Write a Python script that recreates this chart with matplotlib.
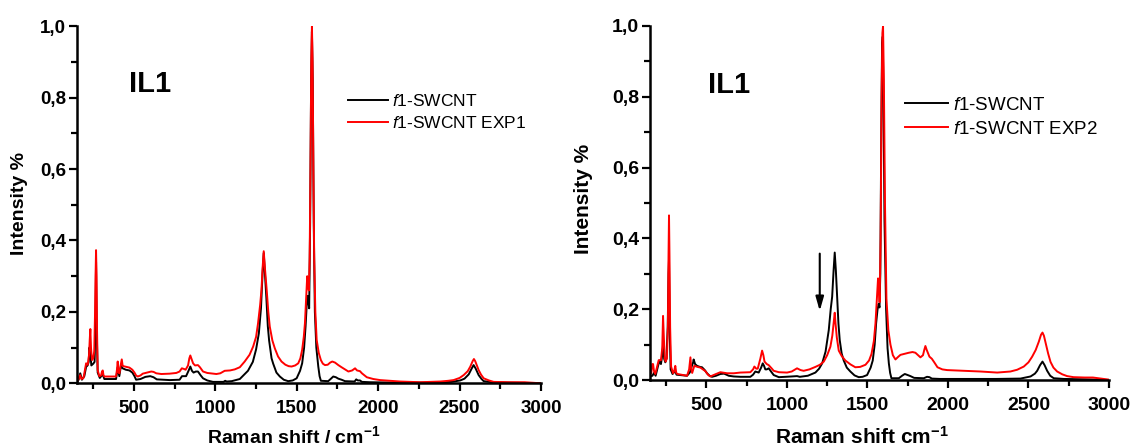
import matplotlib
matplotlib.use("Agg")
import matplotlib.pyplot as plt
from matplotlib.ticker import MultipleLocator, FuncFormatter

# ---------------- data: Raman spectra, normalised to the G band ----------------
# Panel 1: pristine f1-SWCNT vs. f1-SWCNT EXP1
left_ref_shift = [150, 160, 170, 180, 195, 206, 215, 222, 226, 232, 238, 250, 258, 263, 267, 271, 277, 290,
                  308, 318, 390, 400, 410, 420, 430, 450, 472, 490, 503, 513, 540, 570, 600, 620, 640, 680,
                  720, 780, 795, 820, 835, 846, 856, 866, 880, 893, 910, 924, 950, 985, 1050, 1060, 1070,
                  1100, 1150, 1200, 1230, 1250, 1267, 1280, 1290, 1297, 1304, 1313, 1322, 1330, 1345, 1355,
                  1375, 1396, 1420, 1447, 1475, 1499, 1520, 1533, 1545, 1554, 1561, 1566, 1571, 1576, 1582,
                  1588, 1593, 1598, 1604, 1611, 1620, 1632, 1640, 1648, 1693, 1710, 1724, 1740, 1755, 1775,
                  1796, 1855, 1865, 1875, 1888, 1900, 1950, 2100, 2300, 2450, 2504, 2530, 2556, 2575, 2586,
                  2598, 2617, 2635, 2648, 2700, 2800, 2900, 3000]
left_ref_int = [0.003, 0.010, 0.028, 0.010, 0.020, 0.046, 0.050, 0.060, 0.100, 0.085, 0.050, 0.055, 0.060,
                0.150, 0.340, 0.150, 0.030, 0.015, 0.025, 0.012, 0.012, 0.045, 0.020, 0.050, 0.042, 0.038,
                0.036, 0.030, 0.020, 0.010, 0.012, 0.018, 0.020, 0.017, 0.011, 0.010, 0.009, 0.010, 0.020,
                0.020, 0.035, 0.047, 0.035, 0.030, 0.033, 0.033, 0.022, 0.014, 0.008, 0.004, 0.004, 0.007,
                0.005, 0.006, 0.012, 0.035, 0.060, 0.095, 0.140, 0.210, 0.310, 0.365, 0.310, 0.240, 0.160,
                0.120, 0.070, 0.055, 0.030, 0.019, 0.010, 0.006, 0.008, 0.014, 0.035, 0.056, 0.100, 0.160,
                0.220, 0.245, 0.230, 0.210, 0.450, 0.850, 0.985, 0.850, 0.450, 0.200, 0.100, 0.047, 0.020,
                0.007, 0.006, 0.013, 0.019, 0.017, 0.013, 0.010, 0.006, 0.005, 0.011, 0.008, 0.008, 0.004,
                0.003, 0.002, 0.002, 0.004, 0.008, 0.013, 0.025, 0.042, 0.051, 0.042, 0.023, 0.012, 0.006,
                0.003, 0.002, 0.001, 0.000]

left_exp_shift = [150, 160, 169, 178, 190, 200, 206, 216, 224, 228, 232, 236, 242, 250, 256, 261, 264, 267,
                  270, 273, 277, 287, 298, 303, 308, 313, 318, 390, 396, 400, 405, 411, 418, 425, 430, 435,
                  455, 472, 490, 503, 513, 523, 540, 554, 580, 606, 620, 637, 668, 719, 760, 780, 794, 808,
                  817, 832, 840, 846, 852, 863, 875, 893, 905, 924, 950, 1006, 1030, 1057, 1090, 1119, 1150,
                  1180, 1210, 1232, 1250, 1262, 1275, 1283, 1291, 1297, 1303, 1315, 1325, 1334, 1350, 1365,
                  1385, 1406, 1430, 1450, 1468, 1490, 1509, 1522, 1533, 1543, 1550, 1558, 1564, 1568, 1574,
                  1579, 1584, 1589, 1593, 1597, 1602, 1607, 1614, 1622, 1635, 1648, 1660, 1673, 1690, 1705,
                  1718, 1735, 1755, 1775, 1800, 1817, 1840, 1858, 1870, 1888, 1900, 1930, 1970, 2012, 2070,
                  2135, 2200, 2258, 2320, 2381, 2430, 2463, 2500, 2525, 2550, 2566, 2580, 2588, 2596, 2606,
                  2617, 2632, 2648, 2680, 2709, 2800, 2900, 3000]
left_exp_int = [0.005, 0.012, 0.023, 0.012, 0.015, 0.040, 0.056, 0.052, 0.080, 0.120, 0.152, 0.100, 0.065,
                0.070, 0.090, 0.200, 0.300, 0.373, 0.300, 0.150, 0.037, 0.020, 0.022, 0.032, 0.036, 0.022,
                0.019, 0.019, 0.040, 0.061, 0.030, 0.028, 0.050, 0.067, 0.050, 0.048, 0.046, 0.044, 0.038,
                0.030, 0.022, 0.019, 0.022, 0.027, 0.030, 0.033, 0.032, 0.028, 0.026, 0.027, 0.029, 0.033,
                0.042, 0.040, 0.038, 0.050, 0.070, 0.078, 0.070, 0.056, 0.050, 0.051, 0.045, 0.033, 0.029,
                0.026, 0.028, 0.035, 0.036, 0.039, 0.045, 0.061, 0.080, 0.103, 0.130, 0.168, 0.220, 0.262,
                0.330, 0.370, 0.330, 0.262, 0.200, 0.159, 0.120, 0.098, 0.075, 0.061, 0.052, 0.048, 0.047,
                0.050, 0.056, 0.070, 0.094, 0.130, 0.168, 0.240, 0.300, 0.280, 0.260, 0.350, 0.600, 0.900,
                1.000, 0.900, 0.600, 0.350, 0.200, 0.122, 0.085, 0.065, 0.055, 0.051, 0.052, 0.058, 0.061,
                0.058, 0.051, 0.045, 0.038, 0.033, 0.036, 0.042, 0.036, 0.034, 0.028, 0.017, 0.012, 0.009,
                0.007, 0.005, 0.004, 0.003, 0.004, 0.005, 0.007, 0.009, 0.015, 0.023, 0.034, 0.047, 0.062,
                0.068, 0.062, 0.050, 0.037, 0.024, 0.014, 0.008, 0.004, 0.003, 0.003, 0.000]

# Panel 2: pristine f1-SWCNT vs. f1-SWCNT EXP2
right_ref_shift = [150, 165, 175, 185, 200, 210, 218, 226, 232, 238, 245, 252, 260, 265, 268, 272, 278, 290,
                   305, 315, 380, 395, 401, 410, 418, 421, 430, 442, 460, 473, 490, 504, 520, 535, 560, 587,
                   610, 639, 670, 711, 773, 790, 804, 825, 840, 850, 858, 866, 875, 887, 900, 918, 950, 991,
                   1030, 1063, 1080, 1130, 1177, 1200, 1219, 1240, 1260, 1272, 1281, 1290, 1297, 1304, 1312,
                   1320, 1328, 1340, 1353, 1372, 1394, 1420, 1446, 1470, 1498, 1520, 1533, 1545, 1554, 1563,
                   1570, 1575, 1580, 1586, 1591, 1595, 1600, 1606, 1616, 1625, 1633, 1641, 1649, 1695, 1715,
                   1732, 1750, 1767, 1790, 1850, 1870, 1885, 1900, 1950, 2100, 2300, 2450, 2513, 2540, 2554,
                   2572, 2587, 2600, 2616, 2635, 2657, 2720, 2850, 3000]
right_ref_int = [0.010, 0.012, 0.020, 0.012, 0.040, 0.055, 0.045, 0.070, 0.105, 0.060, 0.050, 0.060, 0.150,
                 0.300, 0.340, 0.150, 0.030, 0.017, 0.025, 0.015, 0.012, 0.020, 0.025, 0.040, 0.050, 0.058,
                 0.045, 0.040, 0.037, 0.036, 0.028, 0.019, 0.012, 0.009, 0.012, 0.017, 0.018, 0.012, 0.010,
                 0.009, 0.009, 0.015, 0.024, 0.021, 0.035, 0.047, 0.040, 0.030, 0.030, 0.033, 0.025, 0.014,
                 0.008, 0.009, 0.010, 0.011, 0.009, 0.012, 0.021, 0.032, 0.047, 0.080, 0.141, 0.200, 0.235,
                 0.310, 0.360, 0.310, 0.235, 0.160, 0.113, 0.075, 0.055, 0.035, 0.024, 0.013, 0.008, 0.009,
                 0.014, 0.035, 0.055, 0.100, 0.160, 0.200, 0.215, 0.205, 0.300, 0.700, 0.950, 0.970, 0.800,
                 0.450, 0.200, 0.090, 0.047, 0.020, 0.005, 0.005, 0.012, 0.017, 0.014, 0.011, 0.006, 0.005,
                 0.009, 0.008, 0.004, 0.003, 0.003, 0.003, 0.004, 0.010, 0.018, 0.026, 0.042, 0.052, 0.042,
                 0.026, 0.012, 0.005, 0.003, 0.002, 0.000]

right_exp_shift = [150, 158, 164, 169, 175, 183, 195, 204, 218, 226, 231, 236, 242, 247, 255, 261, 265, 268,
                   271, 275, 281, 293, 300, 307, 313, 320, 380, 393, 401, 406, 412, 425, 445, 463, 494, 510,
                   525, 550, 587, 629, 670, 711, 773, 790, 798, 810, 819, 835, 846, 854, 861, 875, 887, 905,
                   918, 950, 1001, 1030, 1063, 1085, 1104, 1140, 1177, 1205, 1229, 1250, 1270, 1282, 1290,
                   1297, 1302, 1310, 1322, 1340, 1363, 1395, 1425, 1455, 1488, 1510, 1525, 1540, 1550, 1560,
                   1566, 1571, 1576, 1582, 1588, 1593, 1597, 1602, 1609, 1618, 1630, 1643, 1658, 1674, 1690,
                   1705, 1730, 1757, 1780, 1798, 1815, 1829, 1845, 1853, 1860, 1868, 1885, 1900, 1915, 1935,
                   1965, 1995, 2098, 2202, 2306, 2388, 2430, 2471, 2500, 2523, 2545, 2564, 2578, 2587, 2596,
                   2610, 2622, 2637, 2655, 2678, 2710, 2740, 2780, 2850, 2900, 2950, 3000]
right_exp_int = [0.014, 0.020, 0.045, 0.045, 0.025, 0.017, 0.040, 0.056, 0.056, 0.090, 0.181, 0.120, 0.060,
                 0.052, 0.061, 0.150, 0.350, 0.465, 0.350, 0.150, 0.038, 0.019, 0.025, 0.040, 0.020, 0.017,
                 0.012, 0.030, 0.064, 0.030, 0.020, 0.040, 0.037, 0.035, 0.025, 0.015, 0.010, 0.015, 0.022,
                 0.019, 0.019, 0.021, 0.022, 0.030, 0.038, 0.032, 0.032, 0.060, 0.083, 0.070, 0.052, 0.045,
                 0.042, 0.033, 0.026, 0.022, 0.021, 0.024, 0.033, 0.028, 0.026, 0.030, 0.037, 0.043, 0.052,
                 0.070, 0.094, 0.125, 0.160, 0.190, 0.160, 0.120, 0.083, 0.068, 0.055, 0.044, 0.036, 0.037,
                 0.043, 0.055, 0.073, 0.110, 0.160, 0.240, 0.287, 0.260, 0.220, 0.400, 0.800, 0.980, 1.000,
                 0.850, 0.500, 0.230, 0.140, 0.100, 0.070, 0.058, 0.065, 0.071, 0.074, 0.077, 0.079, 0.077,
                 0.070, 0.064, 0.070, 0.085, 0.096, 0.085, 0.066, 0.060, 0.050, 0.036, 0.030, 0.028, 0.026,
                 0.024, 0.021, 0.024, 0.029, 0.038, 0.050, 0.066, 0.085, 0.108, 0.128, 0.134, 0.125, 0.098,
                 0.075, 0.051, 0.035, 0.024, 0.016, 0.011, 0.008, 0.007, 0.007, 0.004, 0.001]

sample_label = "IL1"
ref_label = r"$\mathit{f1}$-SWCNT"
exp_labels = [r"$\mathit{f1}$-SWCNT EXP1", r"$\mathit{f1}$-SWCNT EXP2"]
x_labels = [r"Raman shift / cm$^{\mathbf{-1}}$", r"Raman shift cm$^{\mathbf{-1}}$"]
y_label = "Intensity %"

# ---------------- styling ----------------
plt.rcParams["font.family"] = ["Liberation Sans", "DejaVu Sans"]
plt.rcParams["font.weight"] = "bold"
plt.rcParams["mathtext.fontset"] = "custom"
plt.rcParams["mathtext.rm"] = "Liberation Sans:weight=normal"
plt.rcParams["mathtext.it"] = "Liberation Sans:style=italic:weight=normal"
plt.rcParams["mathtext.bf"] = "Liberation Sans:weight=bold"

fig = plt.figure(figsize=(11.33, 4.46), dpi=100)

panels = [
    dict(rect=[77 / 1133, 1 - 383.3 / 446, 464 / 1133, 357 / 446],
         ref=(left_ref_shift, left_ref_int), exp=(left_exp_shift, left_exp_int),
         exp_label=exp_labels[0], xlabel=x_labels[0], tick_fs=13.5, label_fs=14, leg_fs=12.5,
         ylab_xy=(-0.123, 0.504), xlab_xy=(0.467, -0.168), il_xy=(0.111, 0.816),
         leg_xy=(0.584, 0.812), arrow=None),
    dict(rect=[650 / 1133, 1 - 380 / 446, 459 / 1133, 354 / 446],
         ref=(right_ref_shift, right_ref_int), exp=(right_exp_shift, right_exp_int),
         exp_label=exp_labels[1], xlabel=x_labels[1], tick_fs=14, label_fs=15, leg_fs=13.5,
         ylab_xy=(-0.144, 0.511), xlab_xy=(0.461, -0.180), il_xy=(0.126, 0.811),
         leg_xy=(0.556, 0.800), arrow=(1204, 0.357, 0.195)),
]

comma = FuncFormatter(lambda v, pos: f"{v:.1f}".replace(".", ","))

for p in panels:
    ax = fig.add_axes(p["rect"])
    ax.plot(*p["ref"], color="black", lw=1.4, label=ref_label)
    ax.plot(*p["exp"], color="#ff0000", lw=1.4, label=p["exp_label"])

    ax.set_xlim(150, 3000)
    ax.set_ylim(0, 1.0)
    ax.xaxis.set_major_locator(MultipleLocator(500))
    ax.xaxis.set_minor_locator(MultipleLocator(250))
    ax.yaxis.set_major_locator(MultipleLocator(0.2))
    ax.yaxis.set_minor_locator(MultipleLocator(0.1))
    ax.yaxis.set_major_formatter(comma)

    for side in ("top", "right"):
        ax.spines[side].set_visible(False)
    for side in ("left", "bottom"):
        ax.spines[side].set_linewidth(1.8)

    ax.tick_params(which="major", direction="out", length=6, width=1.6,
                   labelsize=p["tick_fs"], pad=4)
    ax.tick_params(which="minor", direction="out", length=4, width=1.6)
    ax.tick_params(axis="x", which="major", pad=6)
    ax.tick_params(axis="y", which="major", pad=2)

    ax.set_ylabel(y_label, fontsize=p["label_fs"], fontweight="bold")
    ax.yaxis.set_label_coords(*p["ylab_xy"])
    ax.yaxis.label.set_verticalalignment("center")
    ax.set_xlabel(p["xlabel"], fontsize=p["label_fs"], fontweight="bold")
    ax.xaxis.set_label_coords(*p["xlab_xy"])
    ax.xaxis.label.set_verticalalignment("baseline")

    ax.text(*p["il_xy"], sample_label, transform=ax.transAxes, fontsize=21,
            fontweight="bold", ha="left", va="baseline")

    ax.legend(loc="upper left", bbox_to_anchor=p["leg_xy"], frameon=False,
              borderpad=0, borderaxespad=0, handlelength=2.3, handletextpad=0.25,
              labelspacing=0.35, prop=dict(family="Liberation Sans", weight="normal",
                                           size=p["leg_fs"]))

    if p["arrow"] is not None:
        xa, y0, y1 = p["arrow"]
        ax.annotate("", xy=(xa, y1), xytext=(xa, y0),
                    arrowprops=dict(arrowstyle="-|>,head_length=0.7,head_width=0.2",
                                    color="black", lw=1.5, mutation_scale=12,
                                    shrinkA=0, shrinkB=0))

fig.savefig("out.png", dpi=100)
